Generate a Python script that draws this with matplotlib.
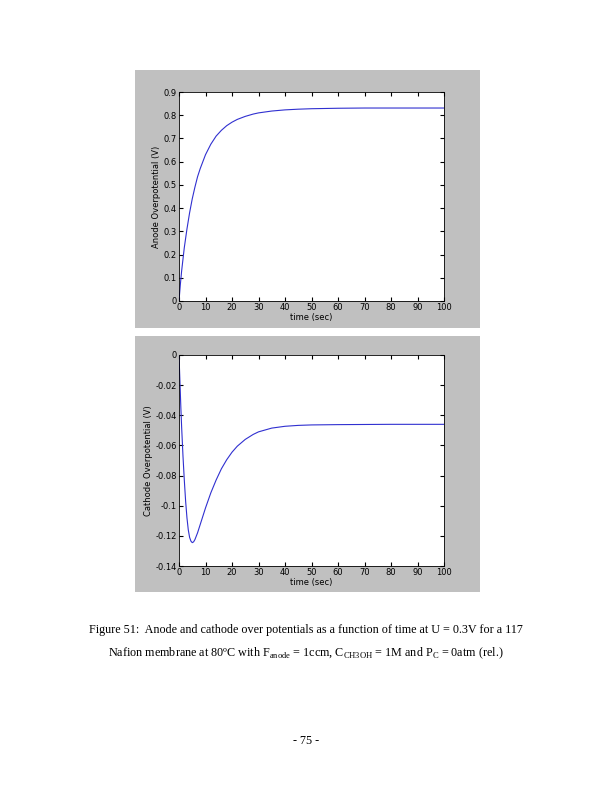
import matplotlib
matplotlib.use("Agg")
import matplotlib.pyplot as plt

t_anode = [0, 0.5, 1, 1.5, 2, 3, 4, 5, 6, 7, 8, 10, 12, 14, 16, 18, 20, 22, 25, 28, 30, 35, 40, 45, 50, 55, 60, 70, 80, 90, 100]
v_anode = [0, 0.07, 0.13, 0.18, 0.23, 0.31, 0.38, 0.44, 0.49, 0.535, 0.57, 0.63, 0.675, 0.71, 0.735, 0.755, 0.77, 0.782, 0.795, 0.805, 0.81, 0.818, 0.823, 0.826, 0.828, 0.829, 0.83, 0.831, 0.831, 0.831, 0.831]

t_cath = [0, 0.3, 0.7, 1, 1.5, 2, 2.5, 3, 3.5, 4, 4.5, 5, 5.5, 6, 7, 8, 9, 10, 12, 14, 16, 18, 20, 22, 25, 28, 30, 35, 40, 45, 50, 55, 60, 70, 80, 90, 100]
v_cath = [0, -0.015, -0.035, -0.048, -0.067, -0.083, -0.097, -0.108, -0.116, -0.121, -0.1235, -0.1245, -0.124, -0.1225, -0.118, -0.1125, -0.107, -0.1015, -0.0915, -0.083, -0.0755, -0.0695, -0.0645, -0.0605, -0.056, -0.0527, -0.051, -0.0485, -0.0473, -0.0467, -0.0464, -0.0463, -0.0462, -0.0461, -0.046, -0.046, -0.046]

W, H = 612, 792
fig = plt.figure(figsize=(6.12, 7.92), dpi=100)

def px(x0, y0, x1, y1):
    return [x0 / W, 1 - y1 / H, (x1 - x0) / W, (y1 - y0) / H]

for bg in [(135, 70, 480, 328), (135, 336, 480, 592)]:
    bax = fig.add_axes(px(*bg), zorder=-5)
    bax.set_facecolor('#c0c0c0')
    bax.set_xticks([]); bax.set_yticks([])
    for s in bax.spines.values():
        s.set_visible(False)

def style(ax):
    ax.tick_params(direction='in', labelsize=6, length=3, top=True, right=True, pad=1.5)
    for s in ax.spines.values():
        s.set_linewidth(0.6)

ax1 = fig.add_axes(px(179, 92, 444, 301), zorder=1)
ax1.plot(t_anode, v_anode, color='#3030d0', lw=0.8)
ax1.set_xlim(0, 100); ax1.set_ylim(0, 0.9)
ax1.set_xticks(range(0, 101, 10)); ax1.set_yticks([i / 10 for i in range(10)])
ax1.set_yticklabels(['0'] + [f'{i/10:.1f}' for i in range(1, 10)])
ax1.set_xlabel('time (sec)', fontsize=6, labelpad=1)
ax1.set_ylabel('Anode Overpotential (V)', fontsize=6, labelpad=2)
style(ax1)

ax2 = fig.add_axes(px(179, 355, 444, 566), zorder=1)
ax2.plot(t_cath, v_cath, color='#3030d0', lw=0.8)
ax2.set_xlim(0, 100); ax2.set_ylim(-0.14, 0)
ax2.set_xticks(range(0, 101, 10))
yt = [-0.14, -0.12, -0.1, -0.08, -0.06, -0.04, -0.02, 0]
ax2.set_yticks(yt)
ax2.set_yticklabels(['-0.14', '-0.12', '-0.1', '-0.08', '-0.06', '-0.04', '-0.02', '0'])
ax2.set_xlabel('time (sec)', fontsize=6, labelpad=1)
ax2.set_ylabel('Cathode Overpotential (V)', fontsize=6, labelpad=2)
style(ax2)

fig.text(306 / W, 1 - 630 / H, 'Figure 51:  Anode and cathode over potentials as a function of time at U = 0.3V for a 117',
         ha='center', va='center', fontsize=8.7, family='Liberation Serif')
fig.text(306 / W, 1 - 653 / H,
         r'Nafion membrane at 80ºC with F$_{\mathregular{anode}}$ = 1ccm, C$_{\mathregular{CH3OH}}$ = 1M and P$_{\mathregular{C}}$ = 0atm (rel.)',
         ha='center', va='center', fontsize=8.7, family='Liberation Serif')
fig.text(306 / W, 1 - 741 / H, '- 75 -', ha='center', va='center', fontsize=8.7, family='Liberation Serif')

fig.savefig('out.png', dpi=100)
